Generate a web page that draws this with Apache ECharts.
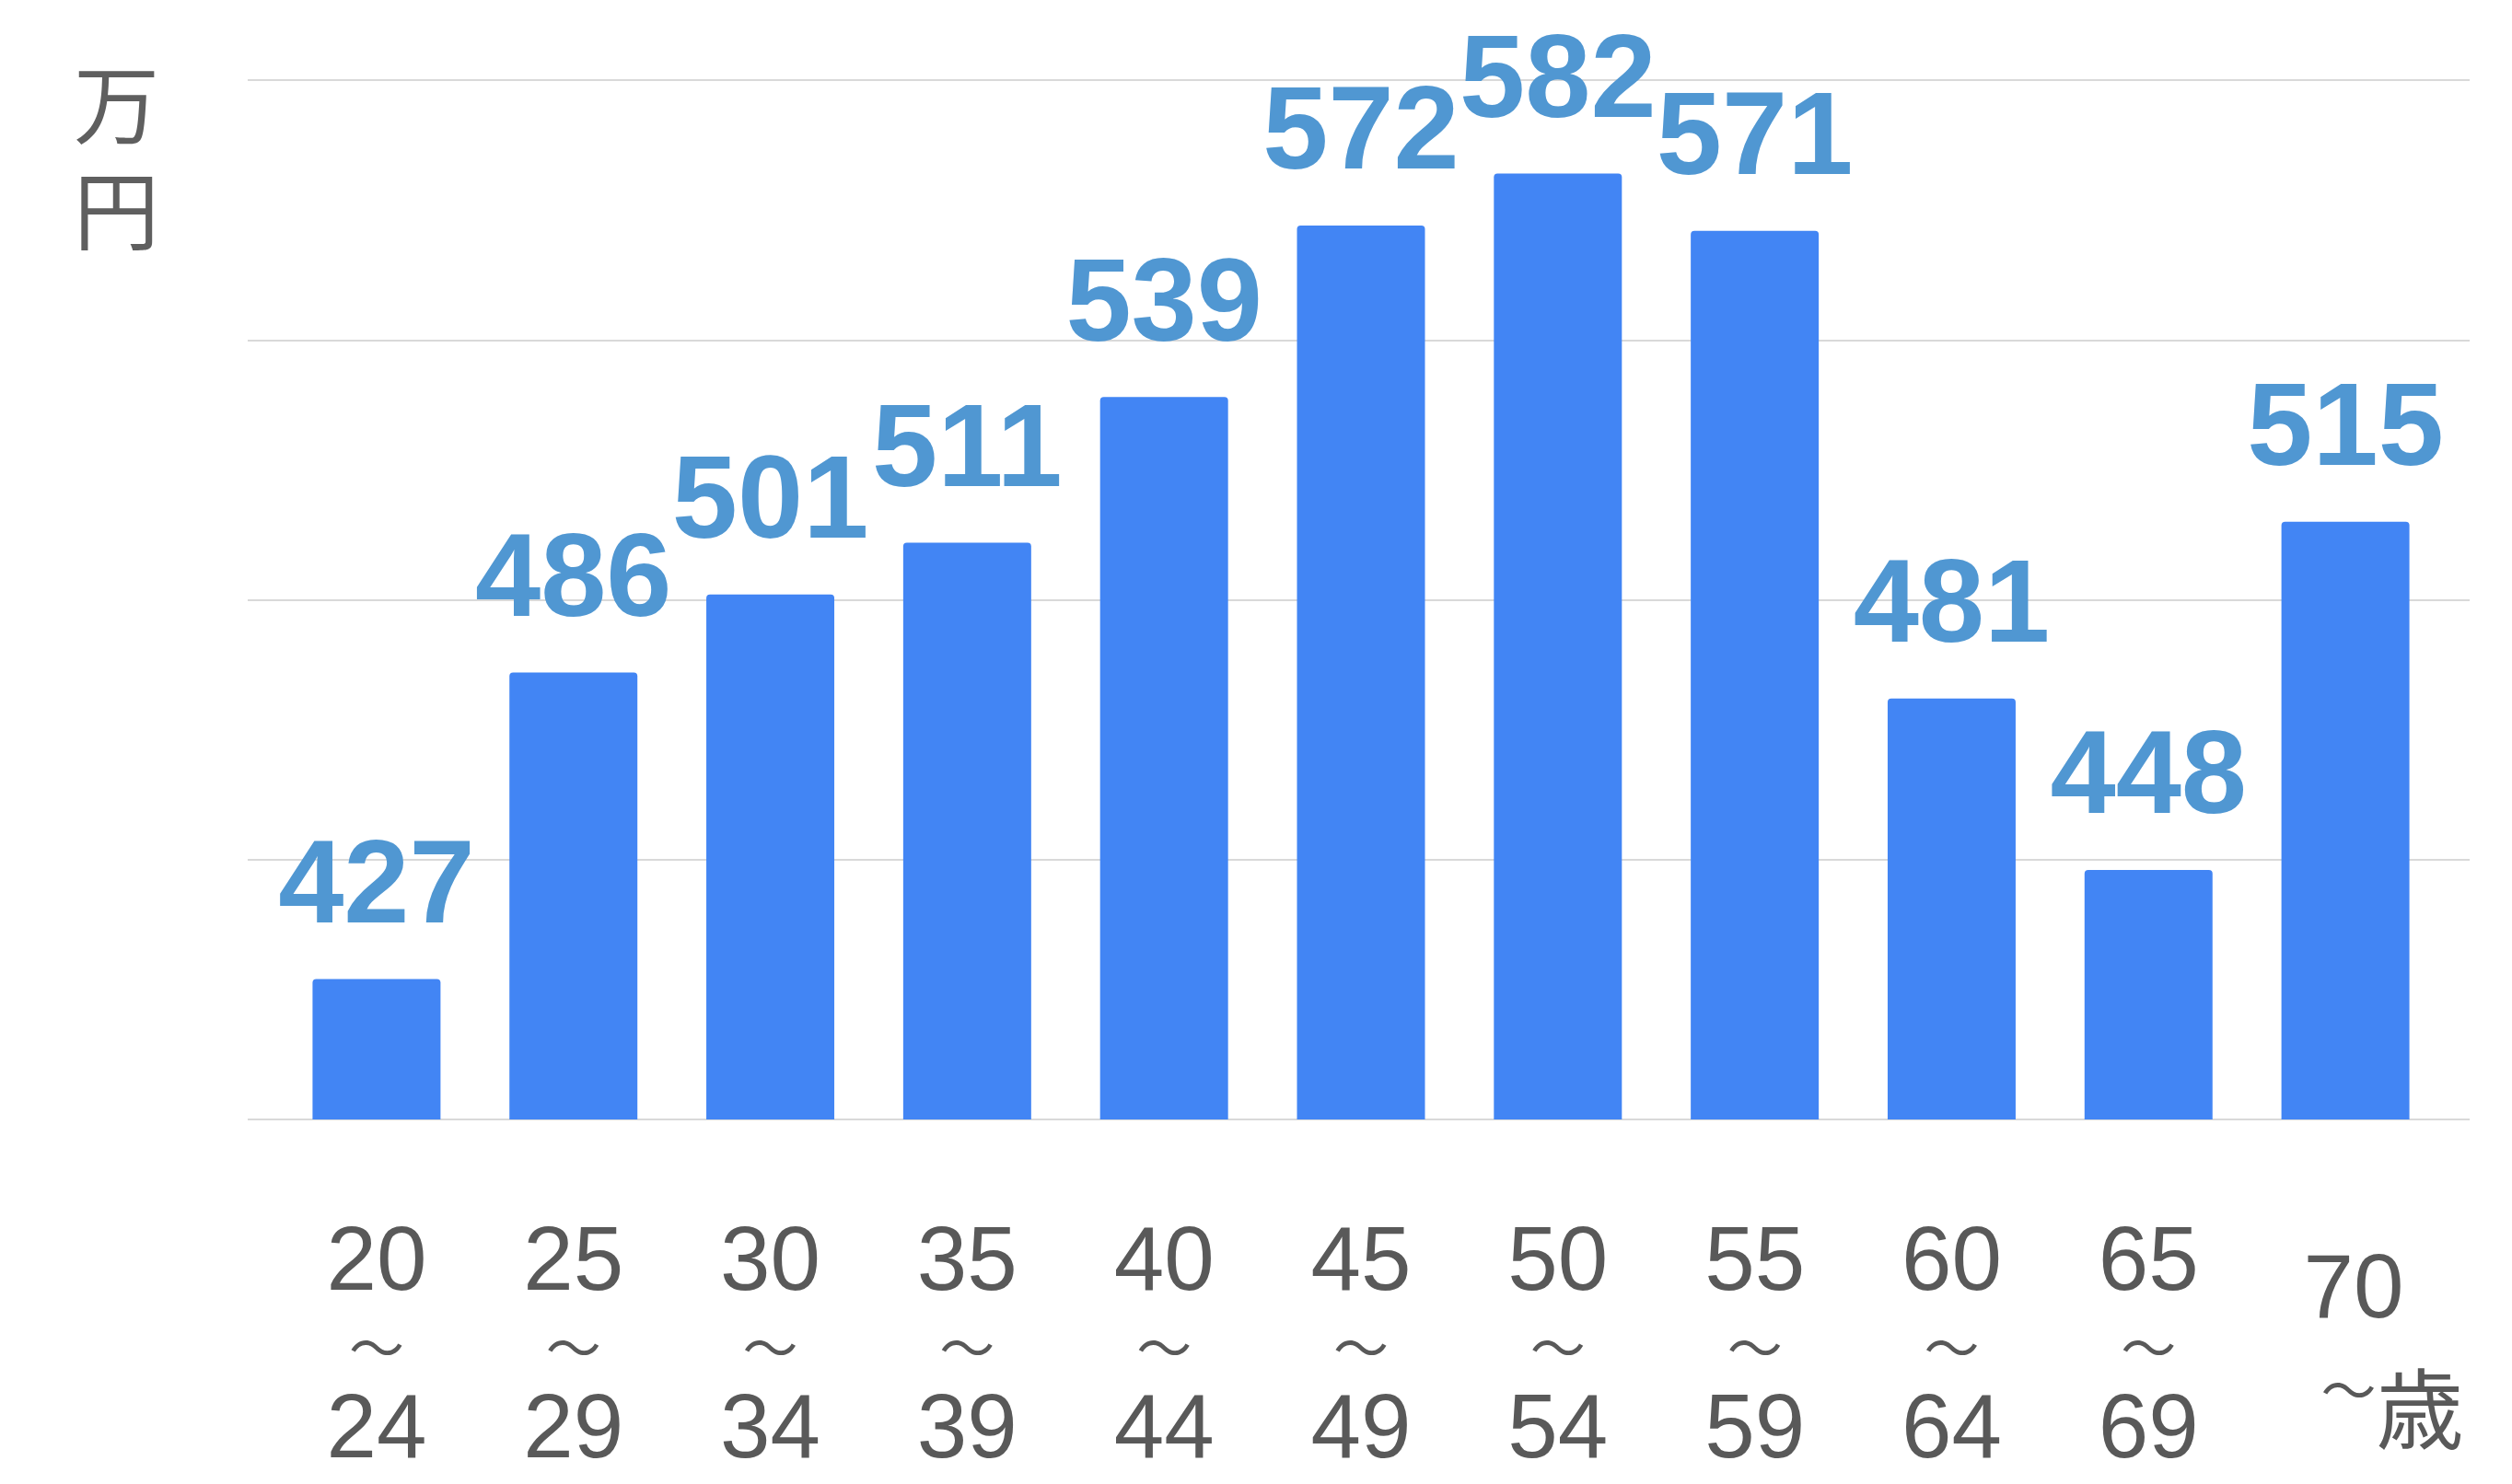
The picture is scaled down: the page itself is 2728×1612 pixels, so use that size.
<!DOCTYPE html>
<html>
<head>
<meta charset="utf-8">
<script src="https://cdn.jsdelivr.net/npm/echarts@6/dist/echarts.min.js"></script>
<style>
  html, body { margin: 0; padding: 0; background: #ffffff; }
  #chart { width: 2728px; height: 1612px; }
</style>
</head>
<body>
<div id="chart"></div>
<script>
// ---- data ----
const ageStarts = ['20', '25', '30', '35', '40', '45', '50', '55', '60', '65', '70'];
const ageEnds   = ['24', '29', '34', '39', '44', '49', '54', '59', '64', '69', '歳'];
const values    = [427, 486, 501, 511, 539, 572, 582, 571, 481, 448, 515];
const yMin = 400, yMax = 600, yStep = 50;
const unitLabel = '万\n円';

const categories = ageStarts.map((s, i) => s + '～' + ageEnds[i]);

const chart = echarts.init(document.getElementById('chart'), null, { renderer: 'canvas' });

const axisGray = '#595959';
const latin = '"Liberation Sans", Arial, sans-serif';
const cjk = '"Noto Sans CJK JP", "Liberation Sans", sans-serif';

function fmtLabel(value) {
  const parts = value.split('～');
  if (/^\d+$/.test(parts[1])) {
    return '{n|' + parts[0] + '}\n{t|～}\n{n|' + parts[1] + '}';
  }
  return '{n2|' + parts[0] + '}\n{t2|～}{k|' + parts[1] + '}';
}

const option = {
  backgroundColor: '#ffffff',
  animation: false,
  title: {
    text: unitLabel,
    left: 80,
    top: 56,
    padding: 0,
    textStyle: {
      fontFamily: cjk,
      fontSize: 93,
      lineHeight: 115,
      fontWeight: 'normal',
      color: '#5f5f5f'
    }
  },
  grid: [
    { left: 269, right: 46, top: 87, bottom: 396, containLabel: false },
    { left: 302, right: 74, top: 87, bottom: 396, containLabel: false }
  ],
  xAxis: [
    { gridIndex: 0, type: 'category', data: categories, show: false },
    {
      gridIndex: 1,
      type: 'category',
      data: categories,
      axisLine: { show: false },
      axisTick: { show: false },
      axisLabel: {
        margin: 112,
        interval: 0,
        formatter: fmtLabel,
        rich: {
          n:  { fontFamily: latin, fontSize: 98, lineHeight: 91, color: axisGray },
          t:  { fontFamily: cjk, fontSize: 60, lineHeight: 91, color: axisGray },
          n2: { fontFamily: latin, fontSize: 98, lineHeight: 152, color: axisGray, padding: [0, 0, 0, 18] },
          t2: { fontFamily: cjk, fontSize: 60, lineHeight: 6, verticalAlign: 'top', color: axisGray, padding: [0, 0, 0, 102] },
          k:  { fontFamily: cjk, fontSize: 95, lineHeight: 102, color: axisGray }
        }
      }
    }
  ],
  yAxis: [
    {
      gridIndex: 0, type: 'value', min: yMin, max: yMax, interval: yStep,
      axisLine: { show: false }, axisTick: { show: false }, axisLabel: { show: false },
      splitLine: { show: true, lineStyle: { color: '#d9d9d9', width: 2 } }
    },
    {
      gridIndex: 1, type: 'value', min: yMin, max: yMax, interval: yStep,
      show: false, splitLine: { show: false }
    }
  ],
  series: [
    {
      type: 'bar',
      xAxisIndex: 1,
      yAxisIndex: 1,
      data: values,
      barWidth: '65%',
      itemStyle: { color: '#4285f4', borderRadius: [4, 4, 0, 0] },
      label: {
        show: true,
        position: 'top',
        distance: 33,
        fontFamily: latin,
        fontWeight: 'bold',
        fontSize: 128,
        lineHeight: 128,
        color: '#5097d2'
      }
    }
  ]
};

chart.setOption(option);
</script>
</body>
</html>
